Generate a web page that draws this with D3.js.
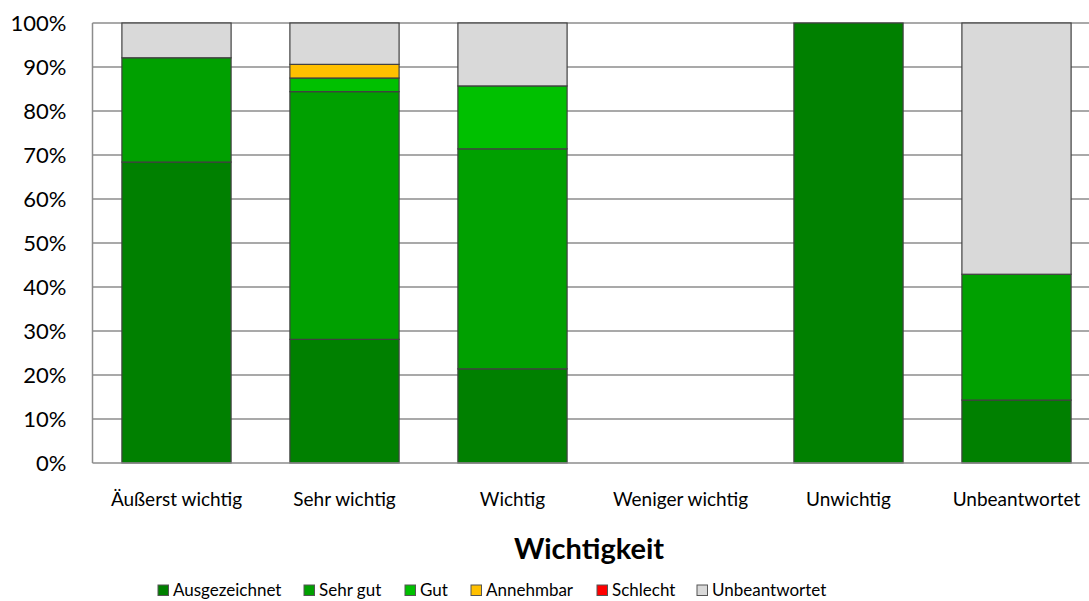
<!DOCTYPE html>
<html><head><meta charset="utf-8">
<script src="https://cdn.jsdelivr.net/npm/d3@7"></script>
<style>body{margin:0;background:#fff;} svg{display:block;font-family:Lato, "Open Sans", sans-serif;}</style>
</head><body>
<svg id="c" width="1089" height="601"></svg>
<script>
(function(){
const categories = ["Äußerst wichtig","Sehr wichtig","Wichtig","Weniger wichtig","Unwichtig","Unbeantwortet"];
const seriesNames = ["Ausgezeichnet","Sehr gut","Gut","Annehmbar","Schlecht","Unbeantwortet"];
const seriesColors = ["#008000","#00A000","#00C000","#FFC000","#FF0000","#D9D9D9"];
const ausgezeichnet = [0.684, 0.281, 0.214, 0, 1.0, 0.143];
const sehrGut       = [0.237, 0.563, 0.500, 0, 0, 0.286];
const gut           = [0, 0.031, 0.143, 0, 0, 0];
const annehmbar     = [0, 0.031, 0, 0, 0, 0];
const schlecht      = [0, 0, 0, 0, 0, 0];
const unbeantwortet = [0.079, 0.094, 0.143, 0, 0, 0.571];
const yTicks = [0,0.1,0.2,0.3,0.4,0.5,0.6,0.7,0.8,0.9,1.0];
const xTitle = "Wichtigkeit";

const series = [ausgezeichnet, sehrGut, gut, annehmbar, schlecht, unbeantwortet];
const rows = categories.map((c,i)=>{const r={cat:c}; seriesNames.forEach((s,j)=>r[s]=series[j][i]); return r;});
const stacked = d3.stack().keys(seriesNames)(rows);

const svg = d3.select("#c");
const pl=92.5, pr=1100.5, pt=23, pb=463;
const x = d3.scaleBand().domain(categories).range([pl,pr]).paddingInner(0.35).paddingOuter(0.175);
const y = d3.scaleLinear().domain([0,1]).range([pb,pt]);

// gridlines
svg.append("g").selectAll("line").data(yTicks.filter(t=>t>0)).join("line")
  .attr("x1",pl).attr("x2",1089).attr("y1",d=>y(d)).attr("y2",d=>y(d))
  .attr("stroke","#8c8c8c").attr("stroke-width",1.5);

// bars
svg.append("g").selectAll("g").data(stacked).join("g")
  .attr("fill",(d,i)=>seriesColors[i])
  .selectAll("rect").data(d=>d.filter(p=>p[1]-p[0]>0)).join("rect")
  .attr("x",d=>x(d.data.cat)).attr("width",x.bandwidth())
  .attr("y",d=>y(d[1])).attr("height",d=>y(d[0])-y(d[1]))
  .attr("stroke","#404040").attr("stroke-width",1.2);

// axes lines
svg.append("line").attr("x1",pl).attr("x2",pl).attr("y1",pt).attr("y2",pb).attr("stroke","#8c8c8c").attr("stroke-width",1.5);
svg.append("line").attr("x1",pl).attr("x2",1089).attr("y1",pb).attr("y2",pb).attr("stroke","#8c8c8c").attr("stroke-width",1.5);

// y labels
const yAxis = d3.axisLeft(y).tickValues(yTicks).tickFormat(d3.format(".0%")).tickSize(0).tickPadding(26);
const ya = svg.append("g").attr("transform",`translate(${pl},0)`).call(yAxis);
ya.select(".domain").remove();
ya.selectAll("text").attr("font-size",22).attr("fill","#000").style("font-family","Lato, sans-serif");

// x labels
const xAxis = d3.axisBottom(x).tickSize(0).tickPadding(30);
const xa = svg.append("g").attr("transform",`translate(0,${pb})`).call(xAxis);
xa.select(".domain").remove();
xa.selectAll("text").attr("font-size",19).attr("fill","#000").style("font-family","Lato, sans-serif");

svg.append("text").attr("x",589).attr("y",559).attr("text-anchor","middle")
  .attr("font-size",29).attr("font-weight","bold").text(xTitle);

// legend
const legX = [158,304,405,471,597,697];
const lg = svg.append("g").selectAll("g").data(seriesNames).join("g")
  .attr("transform",(d,i)=>`translate(${legX[i]},585)`);
lg.append("rect").attr("width",10.5).attr("height",10.5).attr("fill",(d,i)=>seriesColors[i]).attr("stroke","#555").attr("stroke-width",1);
lg.append("text").attr("x",15).attr("y",11).attr("font-size",17).text(d=>d);
})();
</script>
</body></html>
